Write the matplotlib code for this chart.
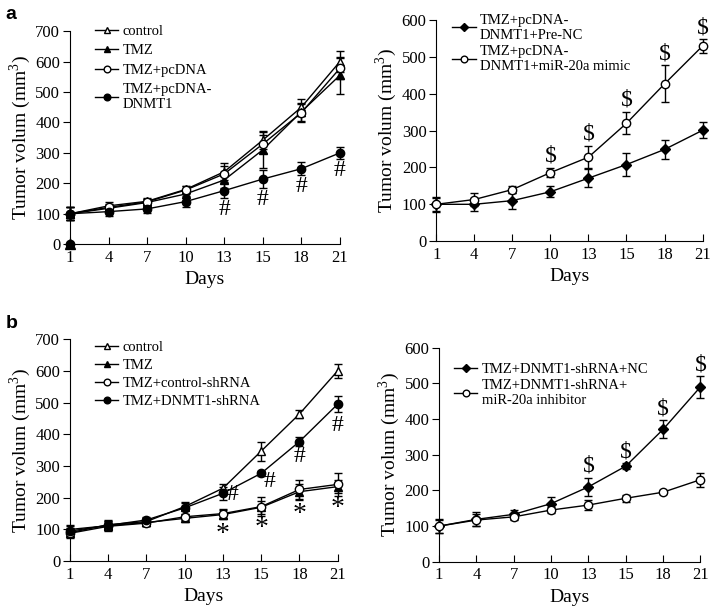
import matplotlib
matplotlib.use("Agg")
import matplotlib.pyplot as plt

plt.rcParams["font.family"] = ["Liberation Serif", "DejaVu Serif"]
plt.rcParams["mathtext.fontset"] = "custom"
plt.rcParams["mathtext.rm"] = "Liberation Serif"

# x axis is categorical (evenly spaced days)
days = ["1", "4", "7", "10", "13", "15", "18", "21"]

# panel a, left
a_control = [100, 126, 141, 180, 238, 342, 450, 600]
a_control_err = [22, 12, 10, 12, 28, 30, 28, 35]
a_tmz = [100, 118, 137, 165, 211, 310, 435, 555]
a_tmz_err = [22, 12, 10, 12, 25, 58, 30, 60]
a_pcdna = [100, 121, 139, 178, 231, 329, 432, 578]
a_pcdna_err = [22, 12, 10, 12, 25, 30, 30, 35]
a_dnmt1 = [100, 107, 116, 140, 176, 214, 248, 300]
a_dnmt1_err = [22, 15, 15, 18, 25, 30, 22, 20]
a_origin = [0]
a_hash_days = [4, 5, 6, 7]

# panel a, right
ar_prenc = [100, 100, 110, 134, 171, 208, 249, 301]
ar_prenc_err = [20, 17, 22, 15, 25, 30, 25, 22]
ar_mimic = [100, 113, 140, 186, 228, 320, 427, 530]
ar_mimic_err = [18, 18, 10, 13, 30, 30, 50, 18]
ar_dollar_days = [3, 4, 5, 6, 7]

# panel b, left
b_control = [90, 115, 125, 172, 230, 347, 464, 600]
b_control_err = [15, 15, 10, 12, 12, 30, 12, 22]
b_tmz = [100, 112, 122, 135, 147, 170, 219, 235]
b_tmz_err = [15, 15, 10, 10, 15, 20, 25, 20]
b_ctrl_sh = [88, 110, 120, 140, 150, 172, 226, 242]
b_ctrl_sh_err = [15, 15, 10, 10, 15, 30, 30, 35]
b_dnmt1_sh = [95, 113, 130, 168, 214, 277, 377, 495]
b_dnmt1_sh_err = [15, 15, 10, 18, 20, 8, 15, 25]
b_hash_days = [4, 5, 6, 7]
b_star_days = [4, 5, 6, 7]

# panel b, right
br_nc = [100, 119, 133, 163, 210, 268, 371, 490]
br_nc_err = [20, 20, 12, 18, 25, 8, 25, 30]
br_inh = [100, 117, 126, 145, 159, 178, 195, 230]
br_inh_err = [18, 18, 8, 8, 15, 10, 5, 20]
br_dollar_days = [4, 5, 6, 7]


def draw_series(ax, values, errs, marker, filled, label, ms=6):
    x = list(range(len(values)))
    ax.errorbar(x, values, yerr=errs, fmt="none", ecolor="black",
                elinewidth=1, capsize=3, capthick=1, clip_on=False, zorder=2)
    ax.plot(x, values, color="black", lw=1, marker=marker, ms=ms,
            mfc="black" if filled else "white", mec="black", mew=1,
            label=label, clip_on=False, zorder=3)


def style_axes(ax, ymax, step=100):
    ax.set_xlim(0, len(days) - 1)
    ax.set_ylim(0, ymax)
    ax.set_xticks(range(len(days)))
    ax.set_xticklabels(days)
    ax.set_yticks(range(0, ymax + 1, step))
    ax.spines["top"].set_visible(False)
    ax.spines["right"].set_visible(False)
    ax.tick_params(axis="x", direction="in", length=5, labelsize=12, pad=4)
    ax.tick_params(axis="y", direction="out", length=5, labelsize=12, pad=2)
    ax.set_xlabel("Days", fontsize=14, labelpad=4)
    ax.set_ylabel("Tumor volum (mm$^3$)", fontsize=14, labelpad=2)


def add_legend(ax, anchor, spacing=0.25):
    ax.legend(loc="upper left", bbox_to_anchor=anchor, frameon=False,
              fontsize=10.5, handlelength=1.6, handletextpad=0.3,
              labelspacing=spacing, borderaxespad=0, borderpad=0,
              markerscale=0.8)


fig = plt.figure(figsize=(7.14, 6.12), dpi=100)

# ---- a left
ax1 = fig.add_axes([0.098, 0.601, 0.378, 0.348])
draw_series(ax1, a_control, a_control_err, "^", False, "control")
draw_series(ax1, a_tmz, a_tmz_err, "^", True, "TMZ")
draw_series(ax1, a_pcdna, a_pcdna_err, "o", False, "TMZ+pcDNA")
draw_series(ax1, a_dnmt1, a_dnmt1_err, "o", True, "TMZ+pcDNA-\nDNMT1")
ax1.plot([0] * len(a_origin), a_origin, ls="none", marker="^", ms=7,
         color="black", clip_on=False, zorder=4)
ax1.plot([0] * len(a_origin), a_origin, ls="none", marker="o", ms=6,
         color="black", clip_on=False, zorder=4)
for i in a_hash_days:
    ax1.text(i, a_dnmt1[i] - a_dnmt1_err[i] - 38, "#", ha="center",
             va="center", fontsize=17)
style_axes(ax1, 700)
add_legend(ax1, (0.093, 1.03), spacing=0.42)

# ---- a right
ax2 = fig.add_axes([0.611, 0.606, 0.373, 0.361])
draw_series(ax2, ar_prenc, ar_prenc_err, "D", True, "TMZ+pcDNA-\nDNMT1+Pre-NC", ms=5)
draw_series(ax2, ar_mimic, ar_mimic_err, "o", False,
            "TMZ+pcDNA-\nDNMT1+miR-20a mimic", ms=6)
for i in ar_dollar_days:
    ax2.text(i, ar_mimic[i] + ar_mimic_err[i] + 32, "$", ha="center",
             va="center", fontsize=17)
style_axes(ax2, 600)
add_legend(ax2, (0.06, 1.03))

# ---- b left
ax3 = fig.add_axes([0.098, 0.083, 0.375, 0.363])
draw_series(ax3, b_control, b_control_err, "^", False, "control")
draw_series(ax3, b_tmz, b_tmz_err, "^", True, "TMZ")
draw_series(ax3, b_ctrl_sh, b_ctrl_sh_err, "o", False, "TMZ+control-shRNA")
draw_series(ax3, b_dnmt1_sh, b_dnmt1_sh_err, "o", True, "TMZ+DNMT1-shRNA")
hash_shift = {4: (0.25, -5), 5: (0.22, -25), 6: (0.0, -48), 7: (0.0, -68)}
for i in b_hash_days:
    dx, dy = hash_shift[i]
    ax3.text(i + dx, b_dnmt1_sh[i] + dy, "#", ha="center", va="center",
             fontsize=17)
for i in b_star_days:
    ax3.text(i, b_tmz[i] - b_tmz_err[i] - 48, "*", ha="center",
             va="center", fontsize=20)
style_axes(ax3, 700)
add_legend(ax3, (0.093, 0.99), spacing=0.32)

# ---- b right
ax4 = fig.add_axes([0.615, 0.082, 0.366, 0.350])
draw_series(ax4, br_nc, br_nc_err, "D", True, "TMZ+DNMT1-shRNA+NC", ms=5)
draw_series(ax4, br_inh, br_inh_err, "o", False,
            "TMZ+DNMT1-shRNA+\nmiR-20a inhibitor", ms=6)
for i in br_dollar_days:
    ax4.text(i, br_nc[i] + br_nc_err[i] + 32, "$", ha="center",
             va="center", fontsize=17)
style_axes(ax4, 600)
add_legend(ax4, (0.057, 0.93))

fig.text(0.008, 0.99, "a", fontsize=14, fontweight="bold",
         family="Liberation Sans", va="top")
fig.text(0.008, 0.485, "b", fontsize=14, fontweight="bold",
         family="Liberation Sans", va="top")

fig.savefig("out.png", dpi=100)
plt.close(fig)
